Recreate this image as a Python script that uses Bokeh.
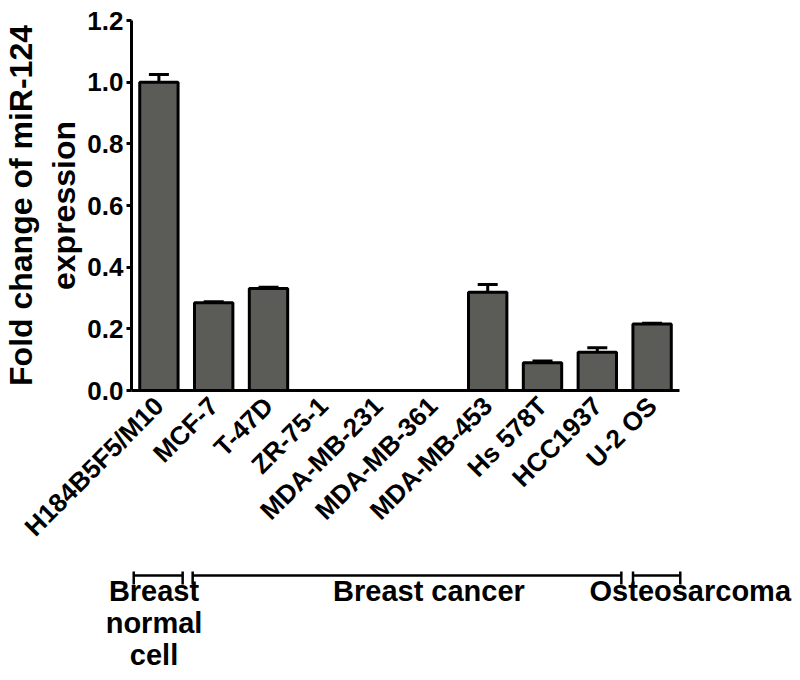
from math import pi
from bokeh.plotting import figure
from bokeh.models import (ColumnDataSource, FactorRange, Range1d, Whisker, TeeHead,
                          FixedTicker, NumeralTickFormatter)
from bokeh.embed import file_html
from bokeh.resources import INLINE
from bokeh.core.properties import value

# ---------------- data ----------------
cell_lines = ["H184B5F5/M10", "MCF-7", "T-47D", "ZR-75-1", "MDA-MB-231",
              "MDA-MB-361", "MDA-MB-453", "Hs 578T", "HCC1937", "U-2 OS"]
fold_change = [1.0, 0.285, 0.331, 0.0, 0.0, 0.0, 0.319, 0.090, 0.124, 0.216]
error = [0.025, 0.003, 0.004, 0.0, 0.0, 0.0, 0.025, 0.006, 0.015, 0.002]
y_ticks = [0.0, 0.2, 0.4, 0.6, 0.8, 1.0, 1.2]

group_names = ["Breast\nnormal\ncell", "Breast cancer", "Osteosarcoma"]
group_start = [0.04, 1.10, 9.02]   # in category-slot units
group_end = [0.92, 8.81, 9.87]
group_label_x = [0.405, 5.35, 10.05]

FONT = "Liberation Sans"
BAR_FILL = "#5b5b57"

# ---------------- layout numbers ----------------
W = 784
W2 = 792
TOP_H = 559
BOT_H = 112
LEFT = 123
RIGHT = 105
P2_SHIFT = 8

src = ColumnDataSource(dict(cells=cell_lines, vals=fold_change))
keep = [i for i, e in enumerate(error) if e > 0]
wsrc = ColumnDataSource(dict(cells=[cell_lines[i] for i in keep],
                             vals=[fold_change[i] for i in keep],
                             upper=[fold_change[i] + error[i] for i in keep]))

p = figure(x_range=FactorRange(*cell_lines), y_range=Range1d(0, 1.2),
           width=W, height=TOP_H, min_border_left=LEFT, min_border_right=RIGHT,
           min_border_top=20, min_border_bottom=169,
           output_backend="svg", toolbar_location=None)
p.outline_line_color = None
p.xgrid.visible = False
p.ygrid.visible = False
p.background_fill_color = "white"

p.vbar(x="cells", top="vals", width=0.7, source=src,
       fill_color=BAR_FILL, line_color="black", line_width=3)

wh = Whisker(source=wsrc, base="cells", upper="upper", lower="vals",
             dimension="height", line_color="black", line_width=3,
             upper_head=TeeHead(size=20, line_color="black", line_width=3),
             lower_head=None)
p.add_layout(wh)

# y axis
ya = p.yaxis[0]
ya.ticker = FixedTicker(ticks=y_ticks)
ya.formatter = NumeralTickFormatter(format="0.0")
ya.axis_label = "Fold change of miR-124\nexpression"
ya.axis_label_text_font = FONT
ya.axis_label_text_font_style = "bold"
ya.axis_label_text_font_size = "32px"
ya.axis_label_text_color = "black"
ya.axis_label_standoff = 2
ya.major_label_text_font = FONT
ya.major_label_text_font_style = "bold"
ya.major_label_text_font_size = "26px"
ya.major_label_text_color = "black"
ya.major_label_standoff = 3
ya.major_tick_out = 5
ya.major_tick_in = 0
ya.major_tick_line_width = 3
ya.minor_tick_out = 0
ya.minor_tick_in = 0
ya.axis_line_width = 3

# x axis
xa = p.xaxis[0]
xa.major_label_orientation = pi / 4
xa.major_label_text_font = FONT
xa.major_label_text_font_style = "bold"
xa.major_label_text_font_size = "26px"
xa.major_label_text_color = "black"
xa.major_label_standoff = 11
xa.major_tick_out = 0
xa.major_tick_in = 0
xa.axis_line_width = 3

# ---------------- group brackets ----------------
frame_w = W - LEFT - RIGHT
unit = frame_w / len(cell_lines)
p2 = figure(x_range=Range1d(-(LEFT + P2_SHIFT) / unit, (W2 - LEFT - P2_SHIFT) / unit),
            y_range=Range1d(BOT_H, 0),
            width=W2, height=BOT_H, min_border=0,
            x_axis_location=None, y_axis_location=None,
            output_backend="svg", toolbar_location=None)
p2.outline_line_color = None
p2.xgrid.visible = False
p2.ygrid.visible = False

bsrc = ColumnDataSource(dict(x0=group_start, x1=group_end,
                             y=[16] * 3, t0=[12] * 3, t1=[25] * 3))
p2.segment(x0="x0", y0="y", x1="x1", y1="y", source=bsrc,
           line_color="black", line_width=2.5)
p2.segment(x0="x0", y0="t0", x1="x0", y1="t1", source=bsrc,
           line_color="black", line_width=2.5)
p2.segment(x0="x1", y0="t0", x1="x1", y1="t1", source=bsrc,
           line_color="black", line_width=2.5)

tsrc = ColumnDataSource(dict(x=group_label_x, y=[15] * 3, t=group_names))
p2.text(x="x", y="y", text="t", source=tsrc, text_align="center",
        text_baseline="top", text_font=value(FONT), text_font_style="bold",
        text_font_size="29px", text_color="black", text_line_height=1.0)

open("out.html", "w").write(file_html([p, p2], INLINE))
